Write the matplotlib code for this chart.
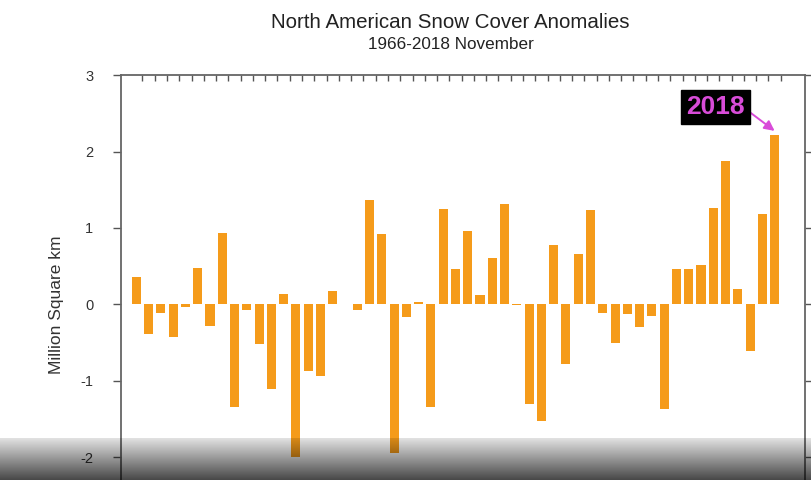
# snow_cover_anomalies.py
import numpy as np
import matplotlib
matplotlib.use("Agg")
import matplotlib.pyplot as plt

# November snow cover anomalies, North America (million km^2)
years = list(range(1966, 2019))
anomalies = [
    0.36, -0.39, -0.11, -0.43, -0.03, 0.48, -0.28, 0.94, -1.35, -0.07,
    -0.52, -1.11, 0.14, -2.00, -0.87, -0.94, 0.18, 0.00, -0.08, 1.37,
    0.92, -1.94, -0.17, 0.03, -1.35, 1.25, 0.46, 0.96, 0.12, 0.60,
    1.31, -0.01, -1.31, -1.53, 0.78, -0.78, 0.66, 1.24, -0.11, -0.50,
    -0.13, -0.30, -0.15, -1.37, 0.46, 0.46, 0.52, 1.26, 1.88, 0.20,
    -0.61, 1.18, 2.22,
]
y_ticks = [-2, -1, 0, 1, 2, 3]

BAR_COLOR = "#F59B1A"
HIGHLIGHT = "#D94CD9"


def main():
    plt.rcParams["font.family"] = ["Liberation Sans", "DejaVu Sans"]

    fig = plt.figure(figsize=(8.12, 4.8), dpi=100)
    # lower part of the axes runs past the bottom edge of the frame
    ax = fig.add_axes([0.149, -0.1115, 0.842, 0.955])

    x = np.array(years)
    ax.bar(x - 0.5, anomalies, width=0.74, color=BAR_COLOR, zorder=2)

    ax.set_xlim(1964.25, 2019.95)
    ax.set_ylim(-3, 3)
    ax.set_yticks(y_ticks)
    ax.set_yticklabels([str(v) for v in y_ticks], fontsize=10.5, color="#333333")
    ax.set_xticks(years)
    ax.tick_params(axis="x", which="both", direction="in", top=True, bottom=True,
                   labelbottom=False, length=4, width=1, color="#555555")
    ax.tick_params(axis="y", direction="out", left=True, right=True,
                   length=6, width=1, color="#555555", pad=14)
    for side in ax.spines.values():
        side.set_color("#666666")
        side.set_linewidth(1.3)

    ax.set_ylabel("Million Square km", fontsize=12.5, color="#333333", labelpad=12)

    fig.text(0.555, 0.954, "North American Snow Cover Anomalies",
             ha="center", va="center", fontsize=14.8, color="#222222")
    fig.text(0.555, 0.908, "1966-2018 November",
             ha="center", va="center", fontsize=12.3, color="#222222")

    # 2018 callout
    ax.annotate(
        "2018",
        xy=(x[-1] - 0.5, anomalies[-1] + 0.05),
        xytext=(2012.68, 2.58),
        ha="center", va="center",
        fontsize=19, fontweight="bold", color=HIGHLIGHT,
        bbox=dict(boxstyle="square,pad=0.2", fc="black", ec="black"),
        arrowprops=dict(arrowstyle="-|>", color=HIGHLIGHT, lw=1.4,
                        relpos=(1.0, 0.45), shrinkA=0, shrinkB=0,
                        mutation_scale=15),
        zorder=5,
    )

    # dark fade along the bottom edge
    shade = fig.add_axes([0, 0, 1, 42 / 480], zorder=10)
    alpha = np.linspace(0.72, 0.12, 64).reshape(-1, 1)
    rgba = np.zeros((64, 1, 4))
    rgba[..., 3] = alpha
    shade.imshow(rgba, aspect="auto", extent=(0, 1, 0, 1), origin="lower")
    shade.axis("off")

    fig.savefig("out.png", dpi=100)


if __name__ == "__main__":
    main()
